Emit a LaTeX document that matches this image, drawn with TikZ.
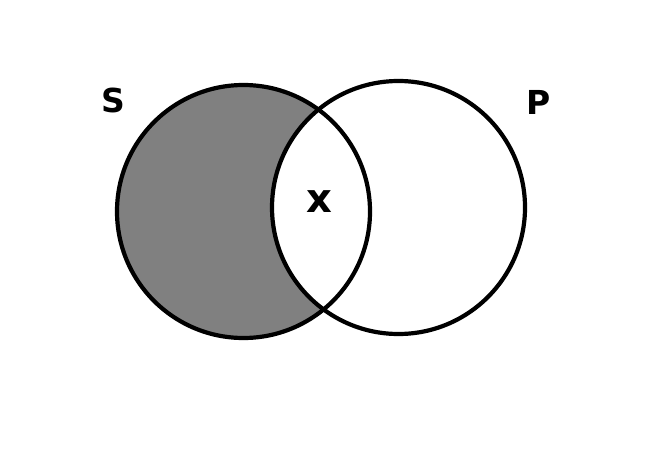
\documentclass[tikz,border=0pt]{standalone}
\usepackage{fontspec}
\setmainfont{DejaVu Sans}
\usepackage{tikz}
\tikzset{
  setring/.style={line width=4.2pt},
  setlabel/.style={font=\bfseries\fontsize{33}{33}\selectfont, inner sep=0pt}
}
\begin{document}
\begin{tikzpicture}[x=1pt,y=1pt]
\useasboundingbox (0,0) rectangle (666,451);
\coordinate (cS) at (243.5,239.5);
\coordinate (cP) at (398.5,243.5);
\fill[gray] (cS) circle[radius=126.5];
\fill[white] (cP) circle[radius=126.5];
\draw[setring] (cS) circle[radius=126.5];
\draw[setring] (cP) circle[radius=126.5];
\node[setlabel] (labS) at (113,351) {S};
\node[setlabel] (labP) at (539,349) {P};
\node[setlabel, font=\bfseries\fontsize{40}{40}\selectfont] (labX) at (319,249) {x};
\end{tikzpicture}
\end{document}
